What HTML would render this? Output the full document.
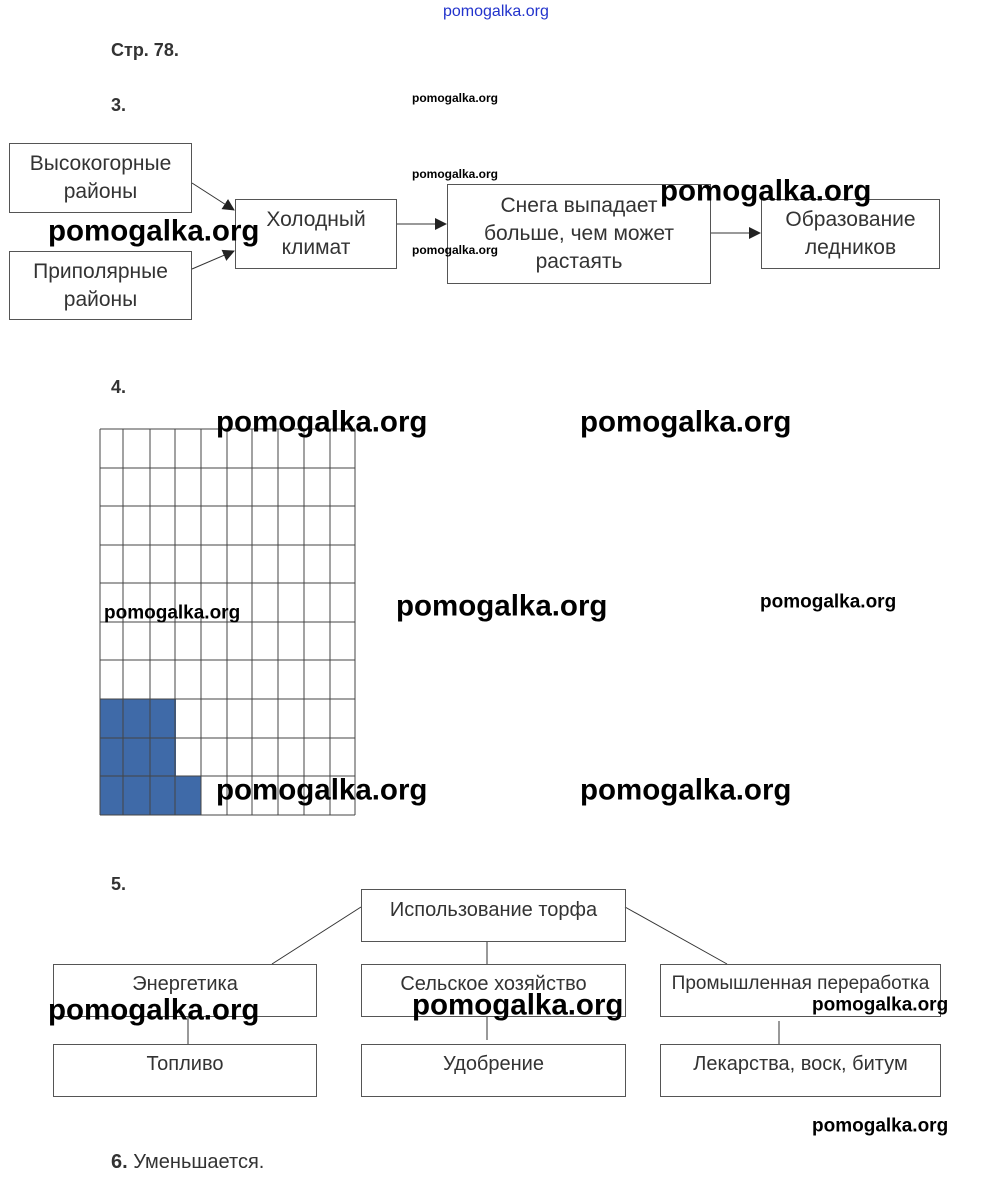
<!DOCTYPE html>
<html><head><meta charset="utf-8"><style>
body{margin:0;width:1000px;height:1193px;background:#fff;position:relative;font-family:"Liberation Sans",sans-serif;overflow:hidden}
.a{position:absolute}
.b{position:absolute;border:1px solid #555;box-sizing:border-box;display:flex;align-items:center;justify-content:center;text-align:center;color:#333;font-size:21px;line-height:28px}
.n{position:absolute;font-size:18px;font-weight:bold;color:#333}
.w{position:absolute;font-weight:bold;color:#000;line-height:1;white-space:nowrap}
.W{font-size:29.5px;transform:translateY(-50%)}
.m{font-size:19px;transform:translateY(-50%)}
.s{font-size:12px;transform:translateY(-50%)}
.c{font-size:20px}
</style></head><body>
<div class="a" style="left:443px;top:3px;color:#2233cc;font-size:16px">pomogalka.org</div>
<div class="n" style="left:111px;top:40px">Стр. 78.</div>
<div class="n" style="left:111px;top:95px">3.</div>
<div class="b" style="left:9px;top:143px;width:183px;height:70px">Высокогорные<br>районы</div>
<div class="b" style="left:9px;top:251px;width:183px;height:69px">Приполярные<br>районы</div>
<div class="b" style="left:235px;top:199px;width:162px;height:70px">Холодный<br>климат</div>
<div class="b" style="left:447px;top:184px;width:264px;height:100px">Снега выпадает<br>больше, чем может<br>растаять</div>
<div class="b" style="left:761px;top:199px;width:179px;height:70px">Образование<br>ледников</div>
<svg class="a" style="left:0;top:0" width="1000" height="1193">
<defs><marker id="ar" markerWidth="12" markerHeight="12" refX="11" refY="6" orient="auto" markerUnits="userSpaceOnUse"><path d="M0,0 L12,6 L0,12z" fill="#222"/></marker></defs>
<g stroke="#333" stroke-width="1" fill="none">
<line x1="192" y1="183" x2="234" y2="210" marker-end="url(#ar)"/>
<line x1="192" y1="269" x2="234" y2="251" marker-end="url(#ar)"/>
<line x1="397" y1="224" x2="446" y2="224" marker-end="url(#ar)"/>
<line x1="711" y1="233" x2="760" y2="233" marker-end="url(#ar)"/>
<line x1="361" y1="907" x2="272" y2="964"/>
<line x1="625" y1="907" x2="727" y2="964"/>
<line x1="487" y1="941" x2="487" y2="964"/>
<line x1="188" y1="1016" x2="188" y2="1044"/>
<line x1="487" y1="1016" x2="487" y2="1040"/>
<line x1="779" y1="1021" x2="779" y2="1044"/>
</g>
<g fill="#3f6aa8">
<rect x="100" y="699" width="76" height="116"/>
<rect x="176" y="776" width="25" height="39"/>
</g>
<g stroke="#444" stroke-width="1">
<line x1="100" y1="429" x2="100" y2="815"/><line x1="123" y1="429" x2="123" y2="815"/><line x1="150" y1="429" x2="150" y2="815"/><line x1="175" y1="429" x2="175" y2="815"/><line x1="201" y1="429" x2="201" y2="815"/><line x1="227" y1="429" x2="227" y2="815"/><line x1="252" y1="429" x2="252" y2="815"/><line x1="278" y1="429" x2="278" y2="815"/><line x1="304" y1="429" x2="304" y2="815"/><line x1="330" y1="429" x2="330" y2="815"/><line x1="355" y1="429" x2="355" y2="815"/>
<line x1="100" y1="429" x2="355" y2="429"/><line x1="100" y1="468" x2="355" y2="468"/><line x1="100" y1="506" x2="355" y2="506"/><line x1="100" y1="545" x2="355" y2="545"/><line x1="100" y1="583" x2="355" y2="583"/><line x1="100" y1="622" x2="355" y2="622"/><line x1="100" y1="660" x2="355" y2="660"/><line x1="100" y1="699" x2="355" y2="699"/><line x1="100" y1="738" x2="355" y2="738"/><line x1="100" y1="776" x2="355" y2="776"/><line x1="100" y1="815" x2="355" y2="815"/>
</g>
</svg>
<div class="n" style="left:111px;top:377px">4.</div>
<div class="n" style="left:111px;top:874px">5.</div>
<div class="b c" style="left:361px;top:889px;width:265px;height:53px;align-items:flex-start;padding-top:6px">Использование торфа</div>
<div class="b c" style="left:53px;top:964px;width:264px;height:53px;align-items:flex-start;padding-top:5px">Энергетика</div>
<div class="b c" style="left:361px;top:964px;width:265px;height:53px;align-items:flex-start;padding-top:5px">Сельское хозяйство</div>
<div class="b c" style="left:660px;top:964px;width:281px;height:53px;align-items:flex-start;padding-top:5px;font-size:19px">Промышленная переработка</div>
<div class="b c" style="left:53px;top:1044px;width:264px;height:53px;align-items:flex-start;padding-top:5px">Топливо</div>
<div class="b c" style="left:361px;top:1044px;width:265px;height:53px;align-items:flex-start;padding-top:5px">Удобрение</div>
<div class="b c" style="left:660px;top:1044px;width:281px;height:53px;align-items:flex-start;padding-top:5px">Лекарства, воск, битум</div>
<div class="a c" style="left:111px;top:1151px;color:#333"><b>6.</b> Уменьшается.</div>
<div class="w s" style="left:412px;top:98px">pomogalka.org</div>
<div class="w s" style="left:412px;top:174px">pomogalka.org</div>
<div class="w s" style="left:412px;top:250px">pomogalka.org</div>
<div class="w W" style="left:48px;top:231px">pomogalka.org</div>
<div class="w W" style="left:660px;top:191px">pomogalka.org</div>
<div class="w W" style="left:216px;top:422px">pomogalka.org</div>
<div class="w W" style="left:580px;top:422px">pomogalka.org</div>
<div class="w W" style="left:396px;top:606px">pomogalka.org</div>
<div class="w W" style="left:216px;top:790px">pomogalka.org</div>
<div class="w W" style="left:580px;top:790px">pomogalka.org</div>
<div class="w W" style="left:48px;top:1010px">pomogalka.org</div>
<div class="w W" style="left:412px;top:1005px">pomogalka.org</div>
<div class="w m" style="left:104px;top:613px">pomogalka.org</div>
<div class="w m" style="left:760px;top:602px">pomogalka.org</div>
<div class="w m" style="left:812px;top:1005px">pomogalka.org</div>
<div class="w m" style="left:812px;top:1126px">pomogalka.org</div>
</body></html>
